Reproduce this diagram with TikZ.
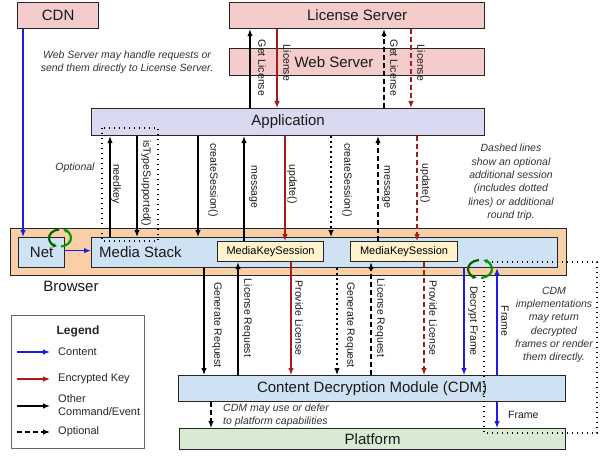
\documentclass[tikz,border=0pt]{standalone}
\usepackage{fontspec}
\setmainfont{Liberation Sans}
\usetikzlibrary{arrows.meta,calc}
\definecolor{pinkc}{HTML}{F4CCCC}
\definecolor{lav}{HTML}{D9D9F2}
\definecolor{peach}{HTML}{F9CFA8}
\definecolor{lblue}{HTML}{CFE2F3}
\definecolor{ylw}{HTML}{FFF2CC}
\definecolor{grn}{HTML}{D9EAD3}
\definecolor{redc}{HTML}{A61C1C}
\definecolor{bluec}{HTML}{1C1CE6}
\begin{document}
\begin{tikzpicture}[x=1pt,y=-1pt,
  box/.style={draw=black!85,line width=1.2pt,inner sep=0pt,anchor=north west},
  big/.style={font=\fontsize{15}{18}\selectfont,text=black!90},
  vl/.style={rotate=-90,font=\fontsize{10.5}{12}\selectfont,inner sep=0pt,text=black!90},
  arr/.style={-{Latex[length=7pt,width=5.5pt]},line width=1.2pt},
  dsh/.style={dash pattern=on 5pt off 3pt},
  dtt/.style={dash pattern=on 1.4pt off 3.6pt},
  note/.style={font=\fontsize{10.5}{13.4}\selectfont\itshape,align=center,text=black!80,inner sep=0pt},
  gic/.style={line width=2.2pt,-{Latex[length=4pt,width=5pt]}},
  lt/.style={font=\fontsize{11}{13}\selectfont,text=black!85,anchor=west,inner sep=0pt,align=left},
]
\useasboundingbox (0,0) rectangle (607,457);
\fill[white] (0,0) rectangle (607,457);

% boxes
\node[box,fill=pinkc,minimum width=81pt,minimum height=26pt,big] (cdn) at (17,2) {CDN};
\node[box,fill=pinkc,minimum width=255pt,minimum height=26pt,big] (ls) at (229,2) {License Server};
\node[box,fill=pinkc,minimum width=255pt,minimum height=27pt] (ws) at (229,48) {};
\node[big] (tws) at (334,62) {Web Server};
\node[box,fill=lav,minimum width=393pt,minimum height=27pt,big] (app) at (91,108) {Application};
\node[box,fill=peach,minimum width=556pt,minimum height=47pt] (br) at (10,228) {};
\node[box,fill=lblue,minimum width=46pt,minimum height=30pt,big] (net) at (18,237) {Net};
\node[box,fill=lblue,minimum width=466pt,minimum height=30pt] (ms) at (91,237) {};
\node[big,anchor=west,inner sep=0pt] (tms) at (99,252) {Media Stack};
\node[box,fill=ylw,minimum width=106pt,minimum height=20pt,font=\fontsize{11}{13}\selectfont] (mks1) at (217,241) {MediaKeySession};
\node[box,fill=ylw,minimum width=107pt,minimum height=20pt,font=\fontsize{11}{13}\selectfont] (mks2) at (350,241) {MediaKeySession};
\node[box,fill=lblue,minimum width=387pt,minimum height=26pt,big] (cdm) at (178,375) {Content Decryption Module (CDM)};
\node[box,fill=grn,minimum width=386pt,minimum height=21pt,big] (plat) at (179,428) {Platform};
\node[box,fill=white,draw=black!60,line width=1pt,minimum width=133pt,minimum height=133pt] (leg) at (11,315) {};

% dotted regions
\draw[dtt,line width=1.3pt] (102,128) rectangle (158,241);
\draw[dtt,line width=1.3pt] (492,262) -- (597,262) -- (597,433) -- (484,433) -- (484,277);

% top arrows
\draw[arr] (250,0 |- app.north) -- (250,0 |- ls.south);
\draw[arr,redc] (277,0 |- ls.south) -- (277,0 |- app.north);
\draw[arr,dsh] (384,0 |- app.north) -- (384,0 |- ls.south);
\draw[arr,dsh,redc] (411,0 |- ls.south) -- (411,0 |- app.north);

% middle arrows
\draw[arr] (110,0 |- ms.north) -- (110,0 |- app.south);
\draw[arr] (137,0 |- app.south) -- (137,0 |- ms.north);
\draw[arr] (198,0 |- app.south) -- (198,0 |- ms.north);
\draw[arr] (244,0 |- mks1.north) -- (244,0 |- app.south);
\draw[arr,redc] (285,0 |- app.south) -- (285,0 |- mks1.north);
\draw[arr,dtt] (331,0 |- app.south) -- (331,0 |- ms.north);
\draw[arr,dsh] (378,0 |- mks2.north) -- (378,0 |- app.south);
\draw[arr,dsh,redc] (417,0 |- app.south) -- (417,0 |- mks2.north);

% lower arrows
\draw[arr] (204,0 |- ms.south) -- (204,0 |- cdm.north);
\draw[arr] (238,0 |- cdm.north) -- (238,0 |- mks1.south);
\draw[arr,redc] (291,0 |- mks1.south) -- (291,0 |- cdm.north);
\draw[arr,dtt] (337,0 |- ms.south) -- (337,0 |- cdm.north);
\draw[arr,dsh] (371,0 |- cdm.north) -- (371,0 |- mks2.south);
\draw[arr,dsh,redc] (424,0 |- mks2.south) -- (424,0 |- cdm.north);
\draw[arr,bluec] (464,0 |- ms.south) -- (464,0 |- cdm.north);
\draw[arr,bluec] (497,0 |- cdm.north) -- (497,0 |- ms.south);
\draw[arr,bluec] (497,0 |- cdm.south) -- (497,0 |- plat.north);
\draw[arr,dsh] (211,0 |- cdm.south) -- (211,0 |- plat.north);

% content path
\draw[arr,bluec] (23,0 |- cdn.south) -- (23,0 |- net.north);
\draw[arr,bluec] ([yshift=2pt]net.east) -- ([yshift=2pt]ms.west);

% green cycle icons
\coordinate (g1) at (60,238);
\coordinate (g2) at (480,269);
\draw[gic,green!40!black] ([shift={(95:11pt and 8.5pt)}]g1) arc[start angle=95,end angle=255,x radius=11pt,y radius=8.5pt];
\draw[gic,green!60!black] ([shift={(275:11pt and 8.5pt)}]g1) arc[start angle=275,end angle=435,x radius=11pt,y radius=8.5pt];
\draw[gic,green!40!black] ([shift={(95:12pt and 9pt)}]g2) arc[start angle=95,end angle=255,x radius=12pt,y radius=9pt];
\draw[gic,green!60!black] ([shift={(275:12pt and 9pt)}]g2) arc[start angle=275,end angle=435,x radius=12pt,y radius=9pt];

% arrow labels
\node[vl] (l1) at (262,68) {Get License};
\node[vl] (l2) at (287,63) {License};
\node[vl] (l3) at (394,68) {Get License};
\node[vl] (l4) at (421,63) {License};
\node[vl] (l5) at (116,184) {needkey};
\node[vl] (l6) at (146,183) {isTypeSupported()};
\node[vl] (l7) at (213,180) {createSession()};
\node[vl] (l8) at (253,187) {message};
\node[vl] (l9) at (292,184) {update()};
\node[vl] (l10) at (347,180) {createSession()};
\node[vl] (l11) at (386,187) {message};
\node[vl] (l12) at (425,183) {update()};
\node[vl] (l13) at (217,325) {Generate Request};
\node[vl] (l14) at (247,318) {License Request};
\node[vl] (l15) at (299,318) {Provide License};
\node[vl] (l16) at (350,325) {Generate Request};
\node[vl] (l17) at (380,318) {License Request};
\node[vl] (l18) at (433,318) {Provide License};
\node[vl] (l19) at (473,321) {Decrypt Frame};
\node[vl] (l20) at (505,321) {Frame};
\node[font=\fontsize{10.5}{12}\selectfont,text=black!90,anchor=west,inner sep=0pt] (l21) at (508,415) {Frame};

% notes
\node[note] (n1) at (127,62) {Web Server may handle requests or\\send them directly to License Server.};
\node[note] (n2) at (75,168) {Optional};
\node[note] (n3) at (511,182.5) {Dashed lines\\show an optional\\additional session\\(includes dotted\\lines) or additional\\round trip.};
\node[note,font=\fontsize{10.5}{13.2}\selectfont\itshape] (n4) at (554,325) {CDM\\implementations\\may return\\decrypted\\frames or render\\them directly.};
\node[note,align=left,anchor=west,font=\fontsize{10.5}{13}\selectfont\itshape] (n5) at (223,415.5) {CDM may use or defer\\to platform capabilities};
\node[big] (tbr) at (71,286) {Browser};

% legend
\node[font=\fontsize{12}{14}\selectfont\bfseries,text=black!85] (lgt) at (78,331) {Legend};
\node[lt] (lg1) at (58,352) {Content};
\node[lt] (lg2) at (58,379) {Encrypted Key};
\node[lt] (lg3) at (58,405.5) {Other\\Command/Event};
\node[lt] (lg4) at (58,432) {Optional};
\draw[arr,bluec] ([xshift=-41pt]lg1.west) -- ([xshift=-8pt]lg1.west);
\draw[arr,redc] ([xshift=-41pt]lg2.west) -- ([xshift=-8pt]lg2.west);
\draw[arr] ([xshift=-41pt,yshift=-0.5pt]lg3.west) -- ([xshift=-8pt,yshift=-0.5pt]lg3.west);
\draw[arr,dsh] ([xshift=-41pt]lg4.west) -- ([xshift=-8pt]lg4.west);
\end{tikzpicture}
\end{document}
